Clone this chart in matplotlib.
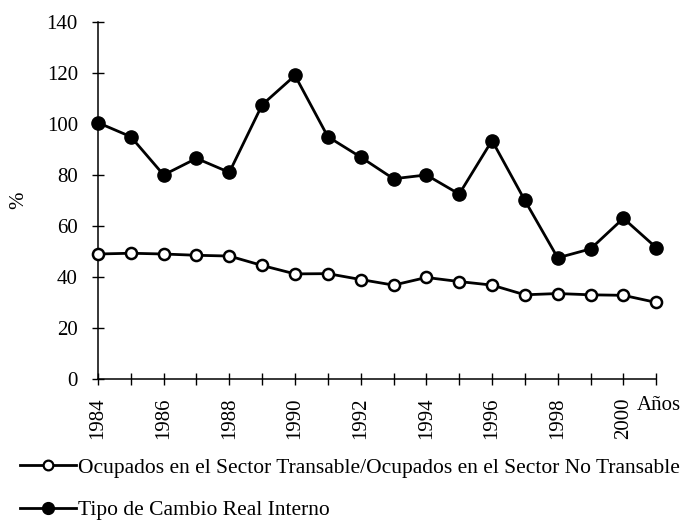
import matplotlib.pyplot as plt
from matplotlib.lines import Line2D

plt.rcParams['font.family'] = ['Liberation Serif', 'DejaVu Serif']

years = list(range(1984, 2002))
tipo_cambio = [100.5, 95, 80, 86.5, 81, 107.5, 119, 95, 87, 78.5, 80, 72.5,
               93.5, 70, 47.5, 51, 63, 51.5]
ocupados = [49, 49.3, 49, 48.5, 48.2, 44.5, 41.2, 41.3, 39, 36.8, 39.8, 38.2,
            36.8, 33, 33.5, 33, 32.8, 30]

fig = plt.figure(figsize=(6.85, 5.22), dpi=100)
ax = fig.add_axes([0.143, 0.274, 0.815, 0.684])

ax.plot(years, tipo_cambio, color='black', lw=2, marker='o', ms=9.5,
        mfc='black', mec='black', clip_on=False, zorder=3)
ax.plot(years, ocupados, color='black', lw=2, marker='o', ms=8,
        mfc='white', mec='black', mew=1.8, clip_on=False, zorder=3)

ax.set_xlim(1984, 2001)
ax.set_ylim(0, 140)
ax.set_yticks(range(0, 141, 20))
ax.set_xticks(years)
ax.set_xticklabels([str(y) if (y - 1984) % 2 == 0 and y <= 2000 else '' for y in years],
                   rotation=90)
ax.tick_params(axis='both', direction='inout', length=9, width=1, labelsize=15)
ax.tick_params(axis='x', pad=9)
ax.tick_params(axis='y', pad=10)
for s in ['top', 'right']:
    ax.spines[s].set_visible(False)
for s in ['left', 'bottom']:
    ax.spines[s].set_linewidth(1.1)

ax.set_ylabel('%', fontsize=15, labelpad=13)
ax.text(1.005, -0.075, 'Años', transform=ax.transAxes, fontsize=15,
        ha='center', va='center')

handles = [
    Line2D([0], [0], color='black', lw=2, marker='o', ms=7, mfc='white',
           mec='black', mew=1.6),
    Line2D([0], [0], color='black', lw=2, marker='o', ms=8.5, mfc='black',
           mec='black'),
]
labels = ['Ocupados en el Sector Transable/Ocupados en el Sector No Transable',
          'Tipo de Cambio Real Interno']
fig.legend(handles, labels, loc='upper left', bbox_to_anchor=(0.016, 0.14),
           frameon=False, fontsize=15.5, handlelength=2.6, handletextpad=0.1,
           labelspacing=1.05, borderaxespad=0)

fig.savefig('out.png', dpi=100)
